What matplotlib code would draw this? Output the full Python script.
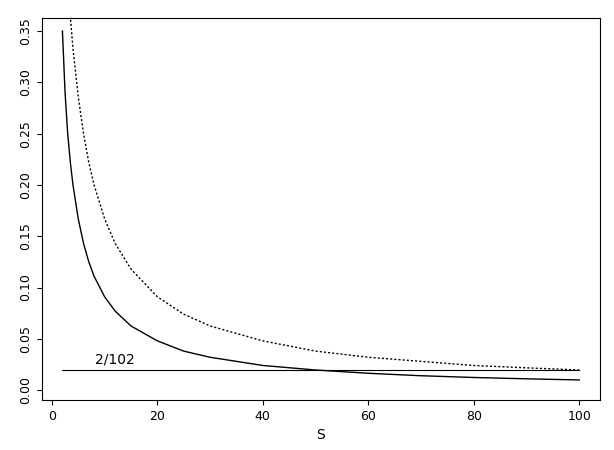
import matplotlib
matplotlib.use("Agg")
import matplotlib.pyplot as plt

# values
s = [2, 2.5, 3, 3.5, 4, 5, 6, 7, 8, 10, 12, 15, 20, 25, 30, 40, 50, 60, 70, 80, 90, 100]
solid = [0.35, 0.29, 0.25, 0.222, 0.2, 0.167, 0.143, 0.125, 0.111, 0.091, 0.077, 0.0625,
         0.048, 0.038, 0.032, 0.024, 0.0196, 0.0164, 0.014, 0.0123, 0.011, 0.0099]
dotted = [0.5, 0.444, 0.4, 0.364, 0.333, 0.286, 0.25, 0.222, 0.2, 0.167, 0.143, 0.118,
          0.091, 0.074, 0.0625, 0.048, 0.038, 0.032, 0.028, 0.024, 0.0217, 0.0196]
level = 2 / 102

fig = plt.figure(figsize=(6.14, 4.5), dpi=100)
ax = fig.add_axes([0.068, 0.111, 0.909, 0.849])
ax.plot(s, solid, color="black", lw=1)
ax.plot(s, dotted, color="black", lw=1, ls=(0, (1.5, 1.5)))
ax.plot([s[0], s[-1]], [level, level], color="black", lw=0.8)
ax.text(12, level + 0.003, "2/102", ha="center", va="bottom", fontsize=10)

ax.set_xlim(-1.92, 103.92)
ax.set_ylim(-0.0097, 0.3627)
ax.set_xticks([0, 20, 40, 60, 80, 100])
ax.set_yticks([0, 0.05, 0.1, 0.15, 0.2, 0.25, 0.3, 0.35])
ax.set_yticklabels(["0.00", "0.05", "0.10", "0.15", "0.20", "0.25", "0.30", "0.35"],
                   rotation=90, va="center")
ax.tick_params(labelsize=9)
ax.set_xlabel("S", fontsize=10)
fig.savefig("out.png", dpi=100)
